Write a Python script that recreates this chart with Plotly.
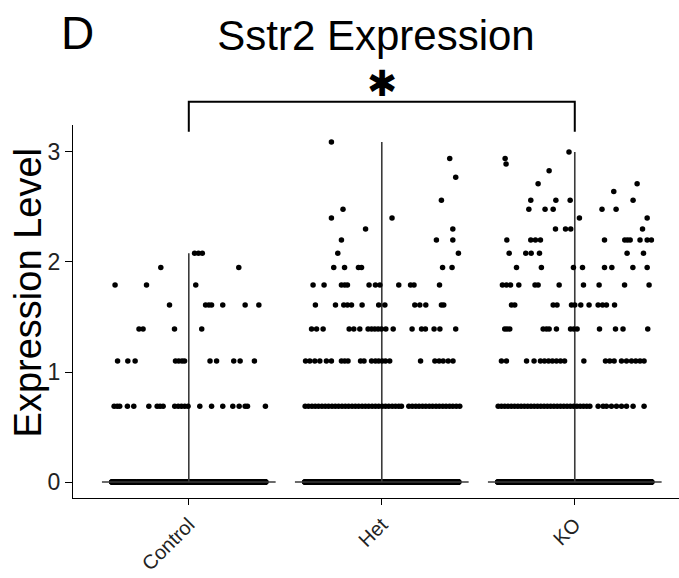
import plotly.graph_objects as go

FONT = "Liberation Sans, Arial, Helvetica, sans-serif"

categories = ["Control", "Het", "KO"]

# number of cells with zero expression (dense band at 0), estimated
zero_counts = [800, 900, 850]

# non-zero expression levels and the jitter offsets (category units)
control_levels = [0.69, 1.10, 1.39, 1.61, 1.79, 1.95, 2.08]
control_offsets = [
    [-0.387, -0.371, -0.358, -0.318, -0.285, -0.207, -0.164, -0.149, -0.133, -0.073, -0.055,
     -0.038, -0.021, -0.004, 0.057, 0.118, 0.176, 0.228, 0.261, 0.292, 0.304, 0.397],
    [-0.369, -0.316, -0.278, -0.069, -0.052, -0.035, -0.022, 0.110, 0.144, 0.233, 0.266, 0.340],
    [-0.258, -0.237, -0.074, 0.067],
    [-0.100, 0.087, 0.104, 0.118, 0.176, 0.292, 0.363],
    [-0.382, -0.219, 0.036],
    [-0.145, 0.259],
    [0.030, 0.050, 0.070],
]

het_levels = [0.69, 1.10, 1.39, 1.61, 1.79, 1.95, 2.08, 2.20, 2.30, 2.40, 2.48, 2.56, 2.77, 2.94, 3.09]
het_offsets = [
    [-0.397, -0.380, -0.362, -0.345, -0.328, -0.310, -0.293, -0.276, -0.258, -0.241, -0.224,
     -0.206, -0.189, -0.172, -0.154, -0.137, -0.120, -0.102, -0.085, -0.068, -0.050, -0.033,
     -0.016, 0.002, 0.019, 0.036, 0.054, 0.071, 0.088, 0.102,
     0.140, 0.158, 0.176, 0.193, 0.211, 0.228, 0.246, 0.263, 0.281, 0.298, 0.316, 0.333,
     0.351, 0.368, 0.386, 0.404],
    [-0.395, -0.373, -0.347, -0.321, -0.287, -0.261, -0.209, -0.192, -0.175, -0.110, -0.092,
     -0.053, -0.033, -0.016, 0.002, 0.019, 0.041, 0.201, 0.275, 0.297, 0.318, 0.344, 0.369],
    [-0.364, -0.338, -0.304, -0.169, -0.145, -0.114, -0.071, -0.053, -0.036, -0.019, -0.002,
     0.021, 0.059, 0.157, 0.206, 0.226, 0.271, 0.301, 0.383],
    [-0.344, -0.240, -0.197, -0.178, -0.157, -0.102, -0.016, 0.016, 0.171, 0.197, 0.228, 0.309, 0.321],
    [-0.356, -0.299, -0.209, -0.192, -0.178, -0.066, -0.033, -0.010, 0.088, 0.149, 0.167, 0.299],
    [-0.249, -0.193, -0.121, -0.105, 0.315, 0.364],
    [-0.228, 0.397],
    [-0.209, 0.283, 0.368],
    [-0.084, 0.368],
    [-0.261, 0.053],
    [-0.201],
    [0.309],
    [0.383],
    [0.352],
    [-0.261],
]

ko_levels = [0.69, 1.10, 1.39, 1.61, 1.79, 1.95, 2.08, 2.20, 2.30, 2.40, 2.48, 2.56, 2.64,
             2.71, 2.83, 2.89, 2.94, 3.00]
ko_offsets = [
    [-0.397, -0.380, -0.363, -0.346, -0.329, -0.312, -0.295, -0.278, -0.261, -0.244, -0.227,
     -0.210, -0.193, -0.176, -0.159, -0.142, -0.125, -0.108, -0.091, -0.074, -0.057, -0.040,
     -0.023, -0.006, 0.011, 0.028, 0.045, 0.062, 0.078,
     0.121, 0.147, 0.164, 0.190, 0.216, 0.242, 0.268, 0.302, 0.359],
    [-0.380, -0.354, -0.250, -0.211, -0.178, -0.157, -0.136, -0.116, -0.095, -0.074, -0.053,
     0.047, 0.159, 0.181, 0.204, 0.242, 0.268, 0.294, 0.316, 0.338, 0.359],
    [-0.363, -0.351, -0.337, -0.164, -0.147, -0.133, -0.095, -0.022, -0.005, 0.012, 0.128,
     0.211, 0.250, 0.378],
    [-0.328, -0.311, -0.112, -0.092, -0.017, 0.000, 0.031, 0.074, 0.121, 0.144, 0.164, 0.206],
    [-0.375, -0.354, -0.333, -0.290, -0.206, -0.190, -0.081, 0.045, 0.126, 0.258, 0.385],
    [-0.302, -0.173, -0.007, 0.040, 0.154, 0.192, 0.301, 0.375],
    [-0.340, -0.254, -0.226, -0.183, 0.271, 0.356],
    [-0.352, -0.228, -0.204, -0.178, 0.154, 0.259, 0.273, 0.287, 0.338, 0.375, 0.397],
    [-0.100, -0.048, -0.021, 0.351],
    [0.024, 0.375],
    [-0.238, -0.154, -0.112, 0.141, 0.214],
    [-0.228, -0.098, -0.024, 0.302],
    [0.202],
    [-0.190, 0.323],
    [-0.133],
    [-0.356],
    [-0.361],
    [-0.030],
]

groups = [
    (control_levels, control_offsets),
    (het_levels, het_offsets),
    (ko_levels, ko_offsets),
]

VIOLIN_HALF = 0.45
JITTER_HALF = 0.4
LINE_COL = "#3a3a3a"
DOT = 5.5

fig = go.Figure()

# violin outlines (degenerate: spike at zero, thin line up to max)
for i, (levels, _) in enumerate(groups):
    pos = i + 1
    fig.add_trace(go.Scatter(x=[pos, pos], y=[0, max(levels)], mode="lines",
                             line=dict(color=LINE_COL, width=1.6), hoverinfo="skip"))
    fig.add_trace(go.Scatter(x=[pos - VIOLIN_HALF, pos + VIOLIN_HALF], y=[0, 0], mode="lines",
                             line=dict(color=LINE_COL, width=1.5), hoverinfo="skip"))

# jittered points
for i, (levels, offsets) in enumerate(groups):
    pos = i + 1
    n0 = zero_counts[i]
    fig.add_trace(go.Box(
        x=[pos] * n0, y=[0] * n0, orientation="v",
        boxpoints="all", jitter=1, pointpos=0, width=2 * JITTER_HALF,
        fillcolor="rgba(0,0,0,0)", line=dict(color="rgba(0,0,0,0)", width=0),
        whiskerwidth=0, marker=dict(color="black", size=DOT), hoveron="points",
    ))
    xs, ys = [], []
    for lv, offs in zip(levels, offsets):
        for o in offs:
            xs.append(pos + o)
            ys.append(lv)
    fig.add_trace(go.Scatter(x=xs, y=ys, mode="markers",
                             marker=dict(color="black", size=DOT, line=dict(width=0))))

fig.update_layout(
    width=679, height=578,
    margin=dict(l=73, r=0, t=125, b=80),
    paper_bgcolor="white", plot_bgcolor="white",
    showlegend=False,
    title=dict(text="Sstr2 Expression", x=0.5, xref="paper", xanchor="center",
               y=1 - 35 / 578, yref="container", yanchor="middle",
               font=dict(size=42, color="black", family=FONT)),
    xaxis=dict(range=[0.4, 3.54], tickmode="array", tickvals=[1, 2, 3], ticktext=categories,
               tickangle=-45, showline=True, linecolor="black", linewidth=1.3,
               ticks="outside", ticklen=6, tickwidth=1.3, tickcolor="black",
               showgrid=False, zeroline=False, automargin=False,
               tickfont=dict(size=20, color="#222", family=FONT)),
    yaxis=dict(range=[-0.145, 3.245], tickmode="array", tickvals=[0, 1, 2, 3],
               showline=True, linecolor="black", linewidth=1.3,
               ticks="outside", ticklen=7, tickwidth=1.3, tickcolor="black",
               showgrid=False, zeroline=False, automargin=False,
               tickfont=dict(size=23, color="#222", family=FONT)),
)

# significance bracket between Control and KO
y_lo, y_hi = 0.982, 1.062
fig.add_shape(type="path", xref="x", yref="paper",
              path=f"M 1 {y_lo} L 1 {y_hi} L 3 {y_hi} L 3 {y_lo}",
              line=dict(color="black", width=2))

fig.add_annotation(text="✱", x=2, xref="x", y=1.11, yref="paper",
                   xanchor="center", yanchor="middle", showarrow=False,
                   font=dict(size=36, color="black", family="DejaVu Sans"))

fig.add_annotation(text="D", x=0.008, xref="paper", y=1.2466, yref="paper",
                   xanchor="center", yanchor="middle", showarrow=False,
                   font=dict(size=46, color="black", family=FONT))

fig.add_annotation(text="Expression Level", x=-0.075, xref="paper", y=0.55, yref="paper",
                   xanchor="center", yanchor="middle", textangle=-90, showarrow=False,
                   font=dict(size=38, color="black", family=FONT))

fig.write_html("out.html")
